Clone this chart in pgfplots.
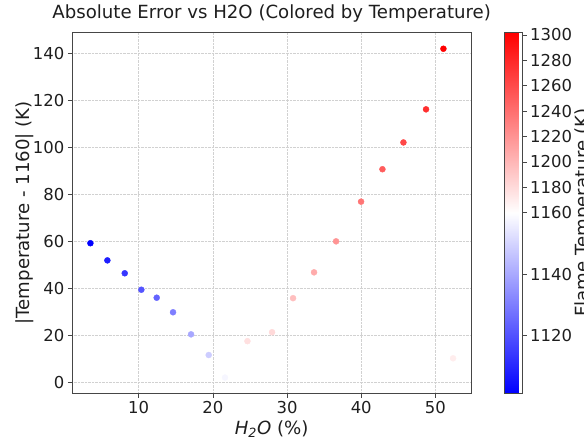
\documentclass[border=0pt]{standalone}
\usepackage{fontspec}
\setmainfont{DejaVu Sans}
\usepackage{pgfplots}
\pgfplotsset{compat=1.18}
\usepackage{pgfplotstable}

\pgfplotstableread{
x     y      T
3.49  59.2   1100.8
5.78  51.9   1108.1
8.12  46.4   1113.6
10.36 39.4   1120.6
12.43 36.0   1124.0
14.63 29.8   1130.2
17.06 20.4   1139.6
19.44 11.6   1148.4
21.64 2.0    1158.0
24.66 17.5   1177.5
27.98 21.3   1181.3
30.81 35.8   1195.8
33.64 46.8   1206.8
36.61 60.0   1220.0
39.98 76.9   1236.9
42.86 90.7   1250.7
45.69 102.1  1262.1
48.74 116.2  1276.2
51.08 142.0  1302.0
52.38 10.2   1170.2
}\datatable

\definecolor{framegray}{RGB}{70,70,70}
\definecolor{textgray}{RGB}{30,30,30}

\begin{document}
\begin{tikzpicture}
\begin{axis}[
  at={(72.3bp,50.7bp)}, anchor=south west,
  scale only axis,
  width=398.7bp, height=361bp,
  xmin=1.05, xmax=54.8,
  ymin=-4.7, ymax=149,
  xtick={10,20,30,40,50},
  ytick={0,20,40,60,80,100,120,140},
  tick align=outside,
  major tick length=4.5bp,
  tick style={framegray, line width=0.7bp},
  xtick pos=bottom, ytick pos=left,
  axis line style={framegray, line width=0.8bp},
  grid=major,
  grid style={densely dotted, line width=0.6bp, black!18},
  /pgf/number format/assume math mode=true,
  ticklabel style={font=\fontsize{16.5}{18}\selectfont, text=textgray},
  title={Absolute Error vs H2O (Colored by Temperature)},
  title style={font=\fontsize{18.2}{20}\selectfont, text=textgray, at={(axis description cs:0.5,1)}, anchor=base, yshift=8bp, inner sep=0pt},
  xlabel={\textit{H\textsubscript{2}O} (\%)},
  xlabel style={font=\fontsize{18.2}{20}\selectfont, text=textgray, at={(axis description cs:0.5,-0.0989)}, anchor=center, inner sep=0pt},
  ylabel={|Temperature - 1160| (K)},
  ylabel style={font=\fontsize{18.2}{20}\selectfont, text=textgray, at={(axis description cs:-0.1186,0.5)}, anchor=center, inner sep=0pt, rotate=0},
  colormap={bwr}{rgb=(0,0,1) rgb=(1,1,1) rgb=(1,0,0)},
  point meta min=0, point meta max=1,
  colorbar,
  colorbar style={
    at={(parent axis.north east)}, anchor=north west, xshift=24.7bp,
    scale only axis,
    width=18bp, height=361bp,
    ymin=0, ymax=1,
    ytick={0.1604,0.3302,0.5,0.5704,0.6407,0.7111,0.7815,0.8519,0.9222,0.9926},
    yticklabels={1120,1140,1160,1180,1200,1220,1240,1260,1280,1300},
    ytick pos=right, yticklabel pos=right,
    tick align=outside,
    major tick length=4.5bp,
    tick style={framegray, line width=0.7bp},
    axis line style={framegray, line width=0.8bp},
    yticklabel style={font=\fontsize{16.5}{18}\selectfont, text=textgray},
    ylabel={Flame Temperature (K)},
    ylabel style={font=\fontsize{18.2}{20}\selectfont, text=textgray, at={(axis description cs:3.889,0.5)}, anchor=north, inner sep=0pt, rotate=0},
  },
]
\addplot[
  scatter, only marks, mark=*, mark size=3bp,
  scatter/use mapped color={draw=mapped color, fill=mapped color},
  point meta={ifthenelse(\thisrow{T}<1160, 0.5*(\thisrow{T}-1101.1)/58.9, 0.5+0.5*(\thisrow{T}-1160)/142.1)},
] table[x=x, y=y] {\datatable};
\end{axis}
\pgfresetboundingbox
\useasboundingbox (0,0) rectangle (584bp,444bp);
\end{tikzpicture}
\end{document}
